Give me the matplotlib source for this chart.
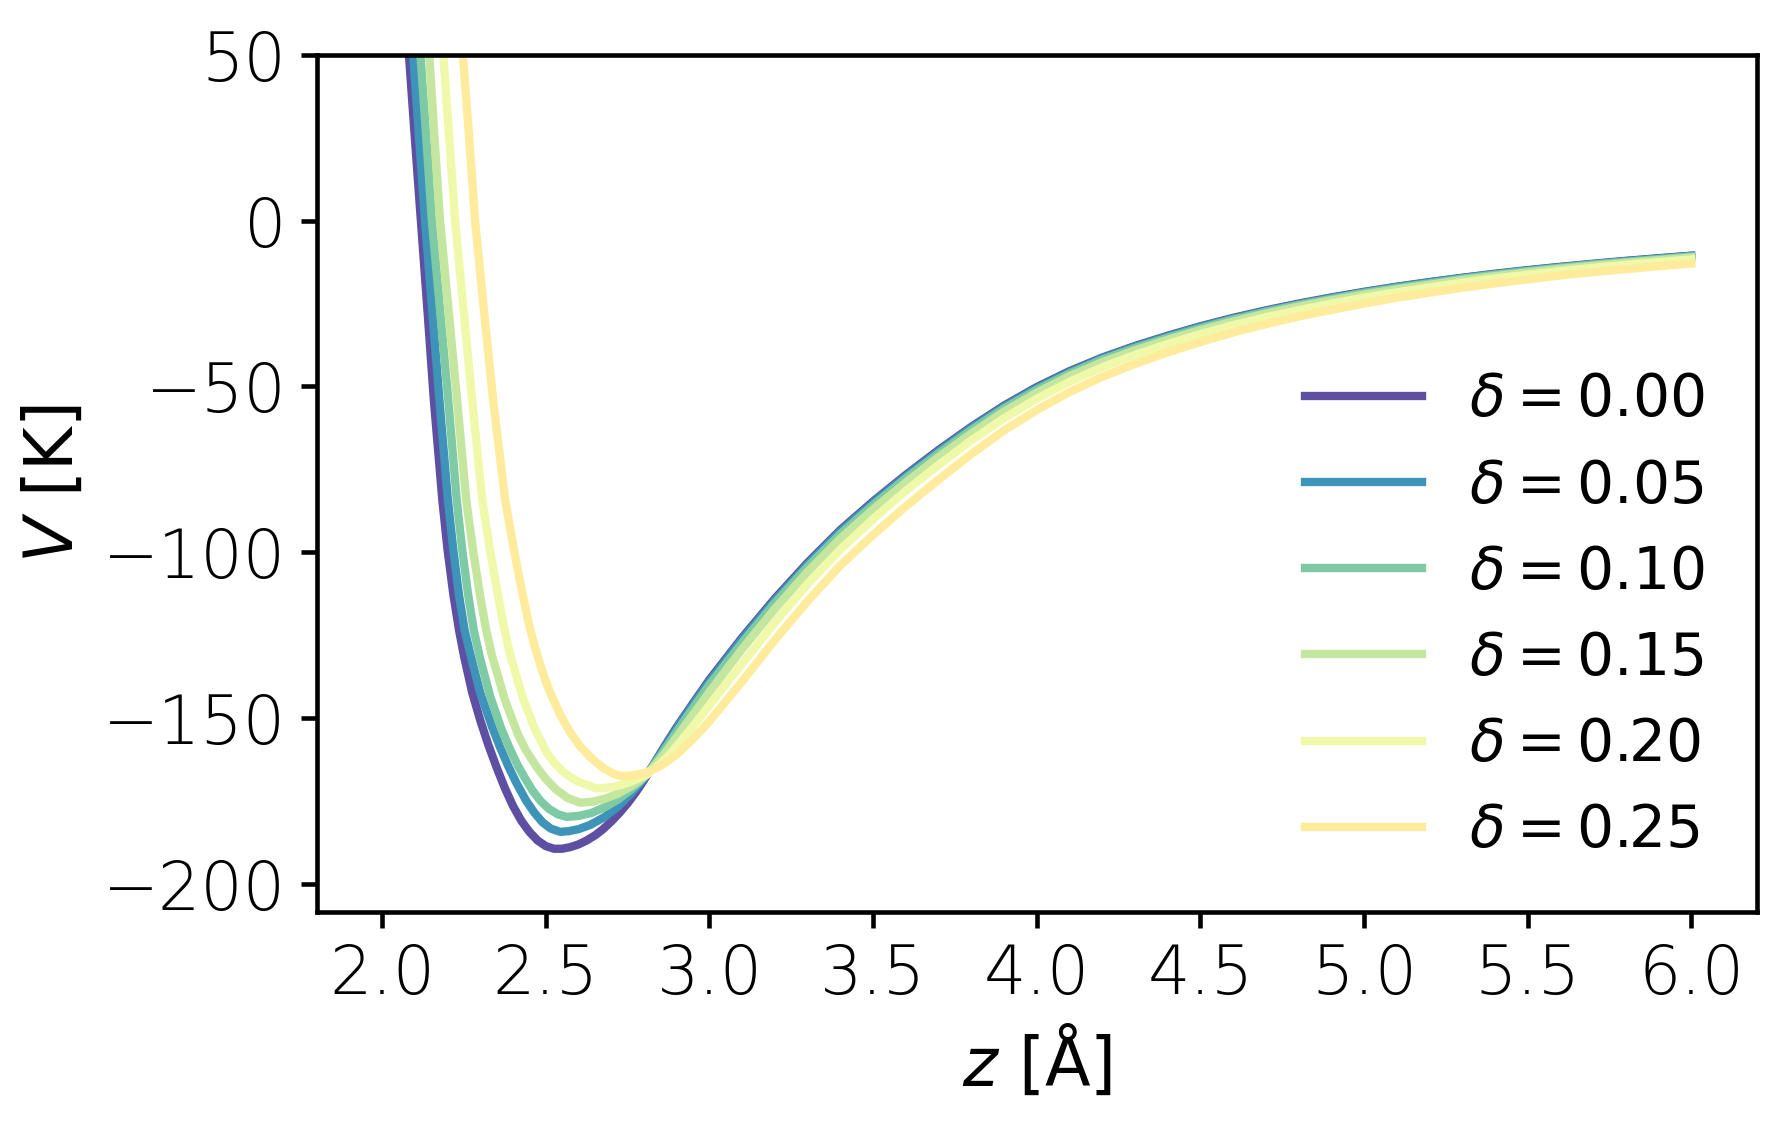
import matplotlib
matplotlib.use("Agg")
import matplotlib.pyplot as plt

# values (z in Angstrom, V in K)
deltas = [0.00, 0.05, 0.10, 0.15, 0.20, 0.25]
colors = ['#5e4fa2', '#3d93b8', '#7dcaa4', '#c4e69f', '#f0f9a9', '#feeb9c']

# common grid for the attractive tail
z_tail = [2.90, 2.95, 3.00, 3.10, 3.20, 3.30, 3.40, 3.50, 3.60, 3.70, 3.80, 3.90, 4.00,
          4.10, 4.20, 4.30, 4.40, 4.50, 4.60, 4.70, 4.80, 4.90, 5.00, 5.10, 5.20, 5.30,
          5.40, 5.50, 5.60, 5.70, 5.80, 5.90, 6.00]

# delta = 0.00
z_d000 = [2.061, 2.082, 2.100, 2.1185, 2.140, 2.158, 2.184, 2.200, 2.218, 2.235, 2.250, 2.275,
          2.300, 2.325, 2.350, 2.375, 2.400, 2.425, 2.450, 2.475, 2.500, 2.525, 2.550, 2.575,
          2.600, 2.625, 2.650, 2.675, 2.700, 2.725, 2.750, 2.775, 2.800, 2.825, 2.850, 2.875]
V_d000 = [80, 50, 25, 0, -29, -54, -84.3, -99.3, -113.0, -123.5, -131.3, -142.3,
          -150.8, -158.3, -165.0, -171.2, -176.6, -181.0, -184.4, -187.0, -188.7, -189.5, -189.5, -189.0,
          -188.2, -187.0, -185.5, -183.6, -181.3, -178.7, -175.8, -172.5, -168.8, -164.8, -160.7, -156.7]
tail_d000 = [-152.8, -145.6, -138.5, -125.8, -114.0, -103.2, -93.3, -84.7, -76.7, -69.2, -62.2, -55.8, -50.2,
             -45.4, -41.3, -37.8, -34.7, -31.85, -29.3, -27.05, -25.0, -23.15, -21.45, -19.9, -18.5, -17.2,
             -16.0, -14.9, -13.9, -12.97, -12.1, -11.3, -10.55]

# delta = 0.05
z_d005 = [2.074, 2.095, 2.113, 2.131, 2.153, 2.175, 2.201, 2.218, 2.235, 2.252, 2.270, 2.300,
          2.335, 2.360, 2.385, 2.410, 2.440, 2.465, 2.490, 2.515, 2.544, 2.570, 2.600, 2.636,
          2.680, 2.720, 2.760, 2.785, 2.810, 2.850, 2.875]
V_d005 = [80, 50, 25, 0, -27, -54, -84.3, -99.7, -113.0, -123.5, -131.0, -142.5,
          -152.5, -158.8, -164.5, -169.6, -175.0, -178.6, -181.5, -183.4, -184.4, -184.2, -183.6, -182.3,
          -179.9, -176.8, -172.9, -170.0, -167.0, -161.0, -157.1]
tail_d005 = [-153.2, -146.0, -139.0, -126.3, -114.5, -103.7, -93.7, -85.1, -77.1, -69.6, -62.5, -56.1, -50.5,
             -45.7, -41.5, -38.0, -34.9, -32.0, -29.5, -27.2, -25.2, -23.3, -21.6, -20.0, -18.6, -17.3,
             -16.1, -15.0, -14.0, -13.1, -12.2, -11.4, -10.6]

# delta = 0.10
z_d010 = [2.096, 2.117, 2.135, 2.152, 2.177, 2.202, 2.228, 2.245, 2.263, 2.280, 2.298, 2.330,
          2.365, 2.390, 2.415, 2.440, 2.460, 2.485, 2.510, 2.537, 2.564, 2.600, 2.640, 2.680,
          2.720, 2.760, 2.785, 2.810, 2.850, 2.875]
V_d010 = [80, 50, 25, 0, -27, -54, -84.3, -99.5, -113.0, -123.5, -131.5, -143.5,
          -153.5, -159.3, -164.5, -168.8, -172.0, -175.2, -177.5, -179.1, -179.9, -179.6, -178.7, -177.0,
          -174.7, -171.7, -169.5, -167.0, -161.5, -157.9]
tail_d010 = [-154.2, -147.0, -140.0, -127.3, -115.3, -104.4, -94.5, -85.8, -77.7, -70.2, -63.1, -56.6, -51.0,
             -46.1, -41.9, -38.4, -35.3, -32.4, -29.8, -27.5, -25.4, -23.6, -21.8, -20.3, -18.9, -17.5,
             -16.3, -15.2, -14.2, -13.2, -12.4, -11.6, -10.8]

# delta = 0.15
z_d015 = [2.124, 2.144, 2.160, 2.177, 2.203, 2.229, 2.257, 2.278, 2.299, 2.317, 2.335, 2.375,
          2.415, 2.440, 2.470, 2.500, 2.530, 2.567, 2.605, 2.640, 2.680, 2.720, 2.760, 2.785,
          2.810, 2.850, 2.875]
V_d015 = [80, 50, 25, 0, -27, -54, -84.3, -99.5, -113.0, -123.0, -131.0, -144.5,
          -155.0, -159.9, -164.5, -168.4, -171.5, -174.2, -175.6, -175.35, -174.45, -172.9, -170.7, -169.0,
          -167.0, -162.4, -159.2]
tail_d015 = [-155.8, -149.0, -142.2, -129.2, -117.1, -105.9, -95.9, -87.1, -79.0, -71.3, -64.2, -57.6, -51.9,
             -46.9, -42.7, -39.1, -35.9, -33.0, -30.4, -28.0, -25.9, -24.0, -22.3, -20.7, -19.3, -17.9,
             -16.7, -15.6, -14.5, -13.6, -12.7, -11.9, -11.1]

# delta = 0.20
z_d020 = [2.166, 2.187, 2.205, 2.223, 2.249, 2.275, 2.306, 2.330, 2.354, 2.372, 2.390, 2.430,
          2.465, 2.503, 2.525, 2.550, 2.575, 2.600, 2.656, 2.700, 2.740, 2.775, 2.810, 2.850, 2.875]
V_d020 = [80, 50, 25, 0, -27, -54, -84.3, -99.5, -113.0, -122.5, -130.5, -144.0,
          -153.0, -160.5, -163.4, -166.0, -167.9, -169.3, -171.3, -170.95, -170.0, -168.7, -167.0, -163.8, -161.4]
tail_d020 = [-158.6, -152.5, -146.2, -133.6, -121.2, -109.6, -99.2, -90.0, -81.5, -73.7, -66.3, -59.6, -53.7,
             -48.6, -44.2, -40.5, -37.2, -34.2, -31.5, -29.1, -27.0, -25.0, -23.2, -21.6, -20.1, -18.7,
             -17.4, -16.3, -15.2, -14.2, -13.3, -12.5, -11.7]

# delta = 0.25
z_d025 = [2.225, 2.247, 2.266, 2.284, 2.311, 2.339, 2.376, 2.404, 2.431, 2.448, 2.465, 2.490,
          2.513, 2.545, 2.574, 2.605, 2.636, 2.660, 2.680, 2.705, 2.727, 2.750, 2.775, 2.810, 2.850, 2.875]
V_d025 = [80, 50, 25, 0, -27, -54, -84.3, -100.0, -113.5, -121.5, -128.0, -136.2,
          -142.3, -149.2, -154.3, -158.6, -161.8, -163.9, -165.4, -166.8, -167.5, -167.5, -167.2, -166.4, -164.5, -162.9]
tail_d025 = [-161.0, -156.4, -151.0, -139.0, -126.5, -114.8, -104.0, -94.8, -86.2, -78.1, -70.4, -63.3, -57.1,
             -51.7, -47.1, -43.2, -39.7, -36.6, -33.7, -31.2, -28.9, -26.9, -25.0, -23.2, -21.7, -20.2,
             -18.9, -17.7, -16.5, -15.5, -14.6, -13.7, -12.9]

curves = [(z_d000, V_d000, tail_d000), (z_d005, V_d005, tail_d005), (z_d010, V_d010, tail_d010),
          (z_d015, V_d015, tail_d015), (z_d020, V_d020, tail_d020), (z_d025, V_d025, tail_d025)]

plt.rcParams['font.family'] = ['DejaVu Sans']
plt.rcParams['axes.linewidth'] = 1.1

fig = plt.figure(figsize=(1786 / 300, 1121 / 300), dpi=300)
ax = fig.add_axes([0.1773, 0.1867, 0.8063, 0.7642])

for (z, V, tail), d, c in zip(curves, deltas, colors):
    ax.plot(z + z_tail, V + tail, color=c, lw=2, label=r'$\delta = %.2f$' % d)

ax.set_xlim(1.8, 6.2)
ax.set_ylim(-208.5, 50)
ax.set_xticks([2.0, 2.5, 3.0, 3.5, 4.0, 4.5, 5.0, 5.5, 6.0])
ax.set_yticks([-200, -150, -100, -50, 0, 50])
ax.tick_params(direction='out', length=3.8, width=1.1, labelsize=16)
for lab in ax.get_xticklabels() + ax.get_yticklabels():
    lab.set_fontweight(200)

ax.set_xlabel(r'$z$ [Å]', fontsize=16)
ax.set_ylabel(r'$V$ [K]', fontsize=16)

ax.legend(loc='lower right', frameon=False, fontsize=14)

fig.savefig('out.png', dpi=300)
